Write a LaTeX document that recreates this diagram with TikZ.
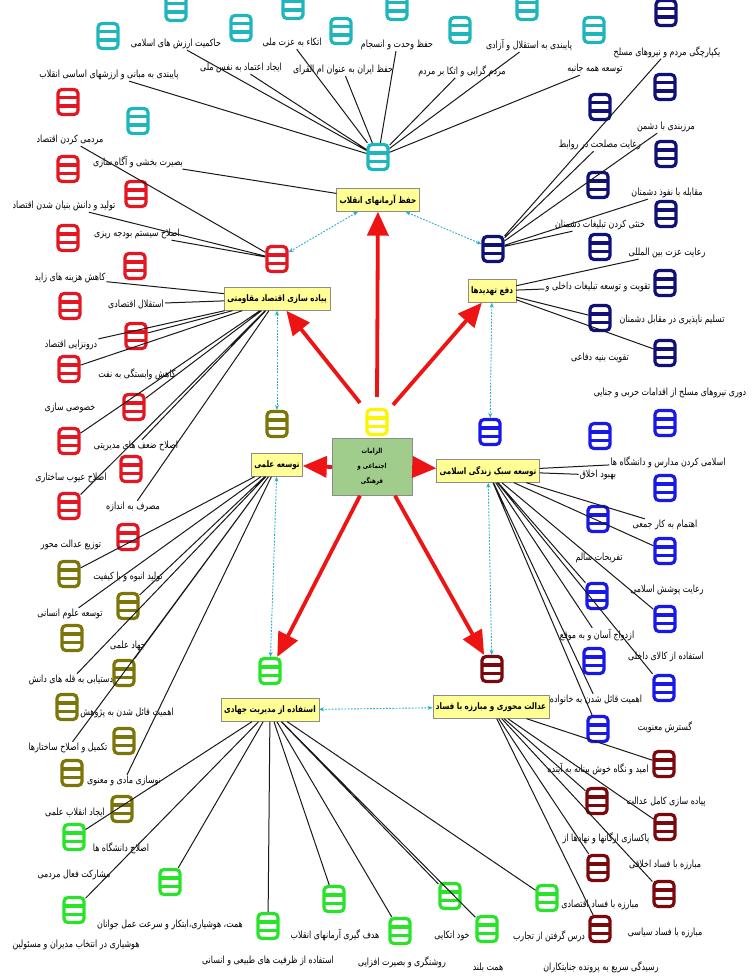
\documentclass[tikz,border=0pt]{standalone}
\usepackage{fontspec}
\newfontfamily\farsi[Script=Arabic, FakeStretch=0.8]{DejaVu Sans}
\TeXXeTstate=1
\usetikzlibrary{arrows.meta}
\definecolor{tealc}{RGB}{30,182,188}
\definecolor{redc}{RGB}{228,22,34}
\definecolor{navyc}{RGB}{16,16,118}
\definecolor{bluec}{RGB}{24,24,232}
\definecolor{olivec}{RGB}{124,118,8}
\definecolor{greenc}{RGB}{40,228,40}
\definecolor{maroonc}{RGB}{122,8,12}
\definecolor{yellowc}{RGB}{250,246,0}
\definecolor{boxfill}{RGB}{255,255,150}
\definecolor{corefill}{RGB}{160,204,140}
\definecolor{arrowred}{RGB}{238,20,20}
\definecolor{linkc}{RGB}{40,176,200}
\begin{document}
\begin{tikzpicture}[x=1pt,y=-1pt,
  ico/.style={draw=#1, fill=white, line width=3.2pt, rounded corners=4pt,
    minimum width=20pt, minimum height=25pt, inner sep=0pt,
    path picture={\draw[#1, line width=3.6pt]
      ([yshift=4.3pt]path picture bounding box.west) -- ([yshift=4.3pt]path picture bounding box.east)
      ([yshift=-4.3pt]path picture bounding box.west) -- ([yshift=-4.3pt]path picture bounding box.east);}},
  txt/.style={font=\farsi\fontsize{9.9}{11}\selectfont, inner sep=1pt,
    execute at begin node=\beginR, execute at end node=\endR},
  cat/.style={draw=black!45, fill=boxfill, font=\farsi\fontsize{9}{11}\selectfont\bfseries,
    inner sep=3pt, minimum height=23pt, execute at begin node=\beginR, execute at end node=\endR},
  wire/.style={draw=black!90, line width=1pt},
  linkdot/.style={draw=linkc, line width=0.9pt, dash pattern=on 1.8pt off 1.4pt,
    {Stealth[length=5pt,width=4pt]}-{Stealth[length=5pt,width=4pt]}},
  arr/.style={draw=arrowred, line width=3.8pt, -{Triangle[length=24pt,width=21pt]}}]
\fill[white] (0,0) rectangle (753,979);
\useasboundingbox (0,0) rectangle (753,979);

% texts of the values of the revolution
\node[txt] (ar1) at (176,44) {حاکمیت ارزش های اسلامی};
\node[txt] (ar2) at (109,75) {پایبندی به مبانی و ارزشهای اساسی انقلاب};
\node[txt] (ar3) at (241,68) {ایجاد اعتماد به نفس ملی};
\node[txt] (ar4) at (292,43) {اتکاء به عزت ملی};
\node[txt] (ar5) at (343,70) {حفظ ایران به عنوان ام القرای};
\node[txt] (ar6) at (397,45) {حفظ وحدت و انسجام};
\node[txt] (ar7) at (462,71) {مردم گرایی و اتکا بر مردم};
\node[txt] (ar8) at (529,45) {پایبندی به استقلال و آزادی};
\node[txt] (ar9) at (595,69) {توسعه همه جانبه};
\node[txt] (ar10) at (138,162) {بصیرت بخشی و آگاه سازی};
% texts of the economy
\node[txt] (eq1) at (70,140) {مردمی کردن اقتصاد};
\node[txt] (eq2) at (64,206) {تولید و دانش بنیان شدن اقتصاد};
\node[txt] (eq3) at (137,234) {اصلاح سیستم بودجه ریزی};
\node[txt] (eq4) at (70,278) {کاهش هزینه های زاید};
\node[txt] (eq5) at (136,304) {استقلال اقتصادی};
\node[txt] (eq6) at (71,345) {درونزایی اقتصاد};
\node[txt] (eq7) at (137,374) {کاهش وابستگی به نفت};
\node[txt] (eq8) at (70,408) {خصوصی سازی};
\node[txt] (eq9) at (136,446) {اصلاح ضعف های مدیریتی};
\node[txt] (eq10) at (71,478) {اصلاح عیوب ساختاری};
\node[txt] (eq11) at (133,507) {مصرف به اندازه};
\node[txt] (eq12) at (71,545) {توزیع عدالت محور};
\node[txt] (eq13) at (128,577) {تولید انبوه و با کیفیت};
% texts of the threats
\node[txt] (th1) at (667,52) {یکپارچگی مردم و نیروهای مسلح};
\node[txt] (th2) at (666,127) {مرزبندی با دشمن};
\node[txt] (th3) at (600,145) {رعایت مصلحت در روابط};
\node[txt] (th4) at (667,193) {مقابله با نفوذ دشمنان};
\node[txt] (th5) at (600,225) {خنثی کردن تبلیغات دشمنان};
\node[txt] (th6) at (667,253) {رعایت عزت بین المللی};
\node[txt] (th7) at (598,287) {تقویت و توسعه تبلیغات داخلی و};
\node[txt] (th8) at (672,320) {تسلیم ناپذیری در مقابل دشمنان};
\node[txt] (th9) at (600,358) {تقویت بنیه دفاعی};
\node[txt] (th10) at (670,393) {دوری نیروهای مسلح از اقدامات حربی و جنایی};
% texts of science
\node[txt] (sc1) at (70,614) {توسعه علوم انسانی};
\node[txt] (sc2) at (128,646) {جهاد علمی};
\node[txt] (sc3) at (71,680) {دستیابی به قله های دانش};
\node[txt] (sc4) at (127,713) {اهمیت قائل شدن به پژوهش};
\node[txt] (sc5) at (68,748) {تکمیل و اصلاح ساختارها};
\node[txt] (sc6) at (124,781) {نوسازی مادی و معنوی};
\node[txt] (sc7) at (75,813) {ایجاد انقلاب علمی};
\node[txt] (sc8) at (121,848) {اصلاح دانشگاه ها};
% texts of the lifestyle
\node[txt] (ls1) at (668,462) {اسلامی کردن مدارس و دانشگاه ها};
\node[txt] (ls2) at (598,475) {بهبود اخلاق};
\node[txt] (ls3) at (665,525) {اهتمام به کار جمعی};
\node[txt] (ls4) at (599,558) {تفریحات سالم};
\node[txt] (ls5) at (667,590) {رعایت پوشش اسلامی};
\node[txt] (ls6) at (597,635) {ازدواج آسان و به موقع};
\node[txt] (ls7) at (666,657) {استفاده از کالای داخلی};
\node[txt] (ls8) at (596,700) {اهمیت قائل شدن به خانواده};
\node[txt] (ls9) at (665,727) {گسترش معنویت};
\node[txt] (ls10) at (598,769) {امید و نگاه خوش بینانه به آینده};
% texts of jihadi management
\node[txt] (jm1) at (74,875) {مشارکت فعال مردمی};
\node[txt] (jm2) at (170,925) {همت، هوشیاری،ابتکار و سرعت عمل جوانان};
\node[txt] (jm3) at (76,945) {هوشیاری در انتخاب مدیران و مسئولین};
\node[txt] (jm4) at (268,961) {استفاده از ظرفیت های طبیعی و انسانی};
\node[txt] (jm5) at (335,935) {هدف گیری آرمانهای انقلاب};
\node[txt] (jm6) at (402,962) {روشنگری و بصیرت افزایی};
\node[txt] (jm7) at (452,936) {خود اتکایی};
\node[txt] (jm8) at (488,967) {همت بلند};
\node[txt] (jm9) at (549,936) {درس گرفتن از تجارب};
% texts of justice
\node[txt] (ju1) at (666,802) {پیاده سازی کامل عدالت};
\node[txt] (ju2) at (606,838) {پاکسازی ارگانها و نهادها از};
\node[txt] (ju3) at (665,865) {مبارزه با فساد اخلاقی};
\node[txt] (ju4) at (600,905) {مبارزه با فساد اقتصادی};
\node[txt] (ju5) at (665,933) {مبارزه با فساد سیاسی};
\node[txt] (ju6) at (601,967) {رسیدگی سریع به پرونده جنایتکاران};

% icons
\node[ico=tealc] (ar1-i) at (176,8) {};
\node[ico=tealc] (ar2-i) at (108,36) {};
\node[ico=tealc] (ar3-i) at (241,28) {};
\node[ico=tealc] (ar4-i) at (293,6) {};
\node[ico=tealc] (ar5-i) at (341,31) {};
\node[ico=tealc] (ar6-i) at (397,7) {};
\node[ico=tealc] (ar7-i) at (460,30) {};
\node[ico=tealc] (ar8-i) at (527,7) {};
\node[ico=tealc] (ar9-i) at (594,30) {};
\node[ico=tealc] (ar10-i) at (138,121) {};
\node[ico=redc] (eq1-i) at (68,102) {};
\node[ico=redc] (eq2-i) at (68,169) {};
\node[ico=redc] (eq3-i) at (136,194) {};
\node[ico=redc] (eq4-i) at (68,238) {};
\node[ico=redc] (eq5-i) at (135,266) {};
\node[ico=redc] (eq6-i) at (70,306) {};
\node[ico=redc] (eq7-i) at (136,336) {};
\node[ico=redc] (eq8-i) at (69,369) {};
\node[ico=redc] (eq9-i) at (134,407) {};
\node[ico=redc] (eq10-i) at (69,441) {};
\node[ico=redc] (eq11-i) at (131,469) {};
\node[ico=redc] (eq12-i) at (69,506) {};
\node[ico=redc] (eq13-i) at (128,537) {};
\node[ico=navyc] (th1-i) at (666,13) {};
\node[ico=navyc] (th2-i) at (665,87) {};
\node[ico=navyc] (th3-i) at (600,107) {};
\node[ico=navyc] (th4-i) at (666,154) {};
\node[ico=navyc] (th5-i) at (598,185) {};
\node[ico=navyc] (th6-i) at (666,214) {};
\node[ico=navyc] (th7-i) at (600,247) {};
\node[ico=navyc] (th8-i) at (665,283) {};
\node[ico=navyc] (th9-i) at (600,318) {};
\node[ico=navyc] (th10-i) at (665,353) {};
\node[ico=olivec] (sc1-i) at (69,574) {};
\node[ico=olivec] (sc2-i) at (128,606) {};
\node[ico=olivec] (sc3-i) at (72,638) {};
\node[ico=olivec] (sc4-i) at (124,673) {};
\node[ico=olivec] (sc5-i) at (67,707) {};
\node[ico=olivec] (sc6-i) at (124,741) {};
\node[ico=olivec] (sc7-i) at (72,773) {};
\node[ico=olivec] (sc8-i) at (122,809) {};
\node[ico=bluec] (ls1-i) at (665,423) {};
\node[ico=bluec] (ls2-i) at (600,436) {};
\node[ico=bluec] (ls3-i) at (665,488) {};
\node[ico=bluec] (ls4-i) at (598,519) {};
\node[ico=bluec] (ls5-i) at (665,551) {};
\node[ico=bluec] (ls6-i) at (597,596) {};
\node[ico=bluec] (ls7-i) at (665,619) {};
\node[ico=bluec] (ls8-i) at (594,661) {};
\node[ico=bluec] (ls9-i) at (664,688) {};
\node[ico=bluec] (ls10-i) at (598,729) {};
\node[ico=greenc] (jm1-i) at (74,837) {};
\node[ico=greenc] (jm2-i) at (170,882) {};
\node[ico=greenc] (jm3-i) at (74,910) {};
\node[ico=greenc] (jm4-i) at (268,926) {};
\node[ico=greenc] (jm5-i) at (334,899) {};
\node[ico=greenc] (jm6-i) at (400,931) {};
\node[ico=greenc] (jm7-i) at (450,896) {};
\node[ico=greenc] (jm8-i) at (487,929) {};
\node[ico=greenc] (jm9-i) at (547,898) {};
\node[ico=maroonc] (ju1-i) at (664,764) {};
\node[ico=maroonc] (ju2-i) at (597,801) {};
\node[ico=maroonc] (ju3-i) at (665,827) {};
\node[ico=maroonc] (ju4-i) at (598,868) {};
\node[ico=maroonc] (ju5-i) at (664,894) {};
\node[ico=maroonc] (ju6-i) at (600,929) {};
% hub icons
\node[ico=tealc] (HT) at (378,157) {};
\node[ico=redc] (HR) at (277,259) {};
\node[ico=navyc] (HN) at (493,249) {};
\node[ico=olivec] (HO) at (277,424) {};
\node[ico=bluec] (HB) at (490,432) {};
\node[ico=greenc] (HG) at (270,671) {};
\node[ico=maroonc] (HD) at (492,669) {};
\node[ico=yellowc] (HY) at (377,422) {};

% boxes
\node[cat] (B1) at (378,200) {حفظ آرمانهای انقلاب};
\node[cat] (B2) at (277,299) {پیاده سازی اقتصاد مقاومتی};
\node[cat] (B3) at (492,291) {دفع تهدیدها};
\node[cat] (B4) at (277,465) {توسعه علمی};
\node[cat] (B5) at (488,471) {توسعه سبک زندگی اسلامی};
\node[cat] (B6) at (270,710) {استفاده از مدیریت جهادی};
\node[cat] (B7) at (491,707) {عدالت محوری و مبارزه با فساد};
\node[draw=black!45, fill=corefill, minimum width=80pt, minimum height=57pt, align=center,
  font=\farsi\fontsize{7}{15}\selectfont\bfseries] (C) at (372,467)
  {\beginR الزامات\endR\\\beginR اجتماعی و\endR\\\beginR فرهنگی\endR};

% wires
\draw[wire] (HT) -- (ar1) (HT) -- (ar2) (HT) -- (ar3) (HT) -- (ar4) (HT) -- (ar5)
  (HT) -- (ar6) (HT) -- (ar7) (HT) -- (ar8) (HT) -- (ar9) (B1) -- (ar10);
\draw[wire] (HR) -- (eq1) (HR) -- (eq2) (HR) -- (eq3) (B2) -- (eq4) (B2) -- (eq5)
  (B2) -- (eq6) (B2) -- (eq7-i) (B2) -- (eq8-i) (B2) -- (eq9-i) (B2) -- (eq9)
  (B2) -- (eq10-i) (B2) -- (eq11) (B2) -- (eq12-i);
\draw[wire] (HN) -- (th1) (HN) -- (th2) (HN) -- (th3) (HN) -- (th4) (HN) -- (th5)
  (B3) -- (th6) (B3) -- (th7) (B3) -- (th9-i) (B3) -- (th10-i);
\draw[wire] (B4) -- (sc1-i) (B4) -- (sc2-i) (B4) -- (sc1) (B4) -- (sc3) (B4) -- (sc4-i)
  (B4) -- (sc5) (B4) -- (sc6);
\draw[wire] (B5) -- (ls1) (B5) -- (ls2) (B5) -- (ls3) (B5) -- (ls5-i) (B5) -- (ls6-i)
  (B5) -- (ls7-i) (B5) -- (ls6) (B5) -- (ls9-i) (B5) -- (ls8) (B5) -- (ls10-i);
\draw[wire] (B6) -- (jm1-i) (B6) -- (jm2-i) (B6) -- (jm3-i) (B6) -- (jm4-i) (B6) -- (jm5-i)
  (B6) -- (jm6-i) (B6) -- (jm7-i) (B6) -- (jm8-i) (B6) -- (jm9-i);
\draw[wire] (B7) -- (ju1-i) (B7) -- (ju2-i) (B7) -- (ju3-i) (B7) -- (ju4-i) (B7) -- (ju5-i)
  (B7) -- (ju6-i);

% dotted links between the groups
\draw[linkdot] (B1) -- (HR);
\draw[linkdot] (B1) -- (HN);
\draw[linkdot] (B2) -- (HO);
\draw[linkdot] (B3) -- (HB);
\draw[linkdot] (B4) -- (HG);
\draw[linkdot] (B5) -- (HD);
\draw[linkdot] (B6) -- (B7);

% red arrows from the core
\draw[arr] ([yshift=11pt]HY.north) -- (B1);
\draw[arr] ([xshift=-17pt,yshift=5pt]HY.north) -- (B2);
\draw[arr] ([xshift=16pt,yshift=3pt]HY.north) -- (B3);
\draw[arr] (C.west) -- (B4);
\draw[arr] (C.east) -- (B5);
\draw[arr] ([xshift=-12pt]C.south) -- (HG);
\draw[arr] ([xshift=23pt]C.south) -- (HD);
\end{tikzpicture}
\end{document}
